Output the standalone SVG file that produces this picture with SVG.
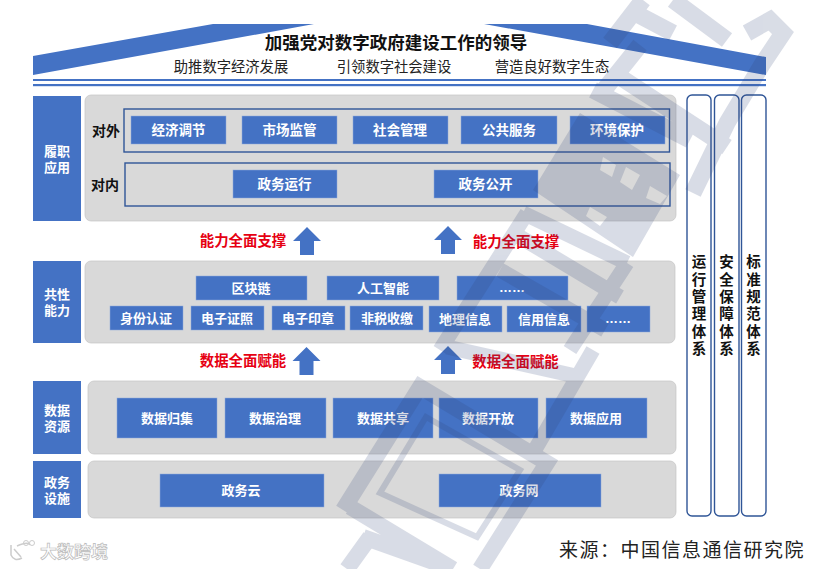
<svg xmlns="http://www.w3.org/2000/svg" width="821" height="569" viewBox="0 0 821 569">
<style>
text{font-family:"Liberation Sans","Noto Sans CJK SC",sans-serif;text-anchor:middle;dominant-baseline:central}
.c{fill:#4472c4;stroke:#8faadc;stroke-width:.5}
.s{fill:#4472c4}
.p{fill:#d9d9d9;stroke:#c4c4c4;stroke-width:.7}
.b{fill:none;stroke:#2f5597;stroke-width:1.4}
.v{fill:#fff;stroke:#2f5597;stroke-width:1.4}
.w{fill:#fff;font-size:13.500px;font-weight:700}
.m{fill:#fff;font-size:13px;font-weight:700}
.l{fill:#fff;font-size:13px;font-weight:700}
.k{fill:#111;font-size:14px;font-weight:700}
.r{fill:#e60012;font-size:14.400px;font-weight:700}
.h{fill:#222;font-size:14.300px}
.t{fill:#111;font-size:14.500px;font-weight:700;writing-mode:vertical-rl;letter-spacing:2.900px;text-anchor:start;dominant-baseline:auto}
.a{fill:#4472c4}
</style>
<defs><path id="ar" d="M0 -14L14 0H7V14H-7V0H-14Z"/></defs>
<g id="roof">
<path class="s" d="M33 56L213 24H314L33 75Z"/>
<path class="s" d="M484 24H587L766 57V75Z"/>
<rect class="s" x="33" y="79" width="733" height="2"/>
<rect class="s" x="33" y="84" width="733" height="2.200"/>
<text x="396" y="43" style="fill:#111;font-size:17.500px;font-weight:700">加强党对数字政府建设工作的领导</text>
<text x="231" y="67" class="h">助推数字经济发展</text>
<text x="394" y="67" class="h">引领数字社会建设</text>
<text x="552" y="67" class="h">营造良好数字生态</text>
</g>
<g id="layer-app">
<rect class="s" x="33" y="96" width="48" height="125"/>
<text x="57" y="151" class="l">履职</text><text x="57" y="167" class="l">应用</text>
<rect class="p" x="85" y="95" width="591" height="126" rx="6"/>
<rect class="b" x="124" y="109" width="545.500" height="43"/>
<rect class="b" x="125" y="163" width="545" height="43"/>
<text x="106" y="130.500" class="k">对外</text><text x="105" y="185" class="k">对内</text>
<rect class="c" x="131" y="116" width="95" height="28"/><text x="178.500" y="130.500" class="w">经济调节</text>
<rect class="c" x="242" y="116" width="95" height="28"/><text x="289.500" y="130.500" class="w">市场监管</text>
<rect class="c" x="353" y="116" width="95" height="28"/><text x="400" y="130.500" class="w">社会管理</text>
<rect class="c" x="461" y="116" width="96" height="28"/><text x="509" y="130.500" class="w">公共服务</text>
<rect class="c" x="570" y="116" width="95" height="28"/><text x="617" y="130.500" class="w">环境保护</text>
<rect class="c" x="233" y="170" width="104" height="28"/><text x="284.500" y="184.500" class="w">政务运行</text>
<rect class="c" x="434" y="170" width="104" height="28"/><text x="485.500" y="184.500" class="w">政务公开</text>
</g>
<g id="layer-capability">
<rect class="s" x="33" y="261" width="48" height="82"/>
<text x="57" y="294" class="l">共性</text><text x="57" y="310" class="l">能力</text>
<rect class="p" x="85" y="261" width="590" height="82" rx="6"/>
<rect class="c" x="196" y="276" width="111" height="24"/><text x="251" y="288" class="m">区块链</text>
<rect class="c" x="327" y="276" width="112" height="24"/><text x="383" y="288" class="m">人工智能</text>
<rect class="c" x="457" y="276" width="111" height="24"/><text x="512" y="287" class="m">……</text>
<rect class="c" x="110" y="306" width="73" height="24"/><text x="146" y="318" class="m">身份认证</text>
<rect class="c" x="191" y="306" width="73" height="24"/><text x="227" y="318" class="m">电子证照</text>
<rect class="c" x="272" y="306" width="73" height="24"/><text x="308" y="318" class="m">电子印章</text>
<rect class="c" x="350" y="306" width="73" height="24"/><text x="387" y="318" class="m">非税收缴</text>
<rect class="c" x="429" y="306" width="73" height="26"/><text x="465" y="319" class="m">地理信息</text>
<rect class="c" x="507" y="306" width="74" height="26"/><text x="544" y="319" class="m">信用信息</text>
<rect class="c" x="587" y="306" width="63" height="26"/><text x="618" y="318" class="m">……</text>
</g>
<g id="layer-data">
<rect class="s" x="33" y="381" width="48" height="73"/>
<text x="57" y="410" class="l">数据</text><text x="57" y="426" class="l">资源</text>
<rect class="p" x="88" y="381" width="588" height="73" rx="6"/>
<rect class="c" x="117" y="398" width="100" height="40"/><text x="167" y="418" class="m">数据归集</text>
<rect class="c" x="225" y="398" width="101" height="40"/><text x="275" y="418" class="m">数据治理</text>
<rect class="c" x="333" y="398" width="100" height="40"/><text x="383" y="418" class="m">数据共享</text>
<rect class="c" x="439" y="398" width="99" height="40"/><text x="488" y="418" class="m">数据开放</text>
<rect class="c" x="546" y="398" width="101" height="40"/><text x="596" y="418" class="m">数据应用</text>
</g>
<g id="layer-infra">
<rect class="s" x="33" y="461" width="48" height="57"/>
<text x="57" y="482" class="l">政务</text><text x="57" y="498" class="l">设施</text>
<rect class="p" x="88" y="461" width="588" height="57" rx="6"/>
<rect class="c" x="160" y="474" width="164" height="33"/><text x="241" y="490.500" class="m">政务云</text>
<rect class="c" x="439" y="474" width="162" height="33"/><text x="519" y="490.500" class="m">政务网</text>
</g>
<g id="pillar-ops"><rect class="v" x="687" y="95" width="24" height="421" rx="5"/>
<text class="t" x="697.500" y="254.500">运行管理体系</text></g>
<g id="pillar-sec"><rect class="v" x="714.500" y="95" width="24.500" height="421" rx="5"/>
<text class="t" x="725" y="254.500">安全保障体系</text></g>
<g id="pillar-std"><rect class="v" x="741.500" y="95" width="24.500" height="421" rx="5"/>
<text class="t" x="752" y="254.500">标准规范体系</text></g>
<g id="connectors">
<use href="#ar" class="a" x="307" y="241"/>
<use href="#ar" class="a" x="448" y="240"/>
<use href="#ar" class="a" x="306.500" y="361"/>
<use href="#ar" class="a" x="448" y="360"/>
<text x="243" y="241" class="r">能力全面支撑</text>
<text x="516" y="241.500" class="r">能力全面支撑</text>
<text x="243" y="361" class="r">数据全面赋能</text>
<text x="515.500" y="362" class="r">数据全面赋能</text>
</g>
<g id="watermark" opacity=".18">
<path fill="#2f4377" fill-rule="evenodd" d="M580 113L680 175L633 257L533 190ZM603 157L616 165L612 177L600 170ZM626 167L640 175L632 190L620 182ZM650 186L667 196L660 204L646 198ZM590 207L607 217L600 226L586 216Z"/>
<path fill="none" stroke="#2f4377" stroke-width="17" d="M610 43L643 0M635 13L673 33M673 0L727 40M747 33L770 20L783 33L763 63L727 123L693 193M600 95L640 45M620 77L727 147M593 90L690 140"/>
<path fill="none" stroke="#2f4377" stroke-width="15" d="M523 213L627 263M520 237L620 297M440 350L527 213M627 263L570 350M500 270L605 330M447 347L580 377M593 350L533 453"/>
<path fill="none" stroke="#2f4377" stroke-width="16" d="M343 510L420 387L547 463L480 569M350 507L453 569M370 537L347 569M363 537L453 569"/>
<path fill="none" stroke="#2f4377" stroke-width="6" d="M426 417L520 470L477 537L380 493Z"/>
</g>
<g id="footer">
<text x="682" y="550.500" style="fill:#222;font-size:19px;letter-spacing:1.500px">来源：中国信息通信研究院</text>
<path d="M11 545V555Q14 562 22 558M17 546Q28 541 30 545M14 549L21 557" fill="none" stroke="#ccc" stroke-width="1.500"/>
<circle cx="26" cy="543" r="2.500" fill="none" stroke="#ccc"/><circle cx="32" cy="543" r="2.500" fill="none" stroke="#ccc"/>
<text x="74" y="552.500" style="fill:#fff;stroke:#bbb;stroke-width:.7;font-size:17px;font-weight:700">大数跨境</text>
</g>
</svg>
